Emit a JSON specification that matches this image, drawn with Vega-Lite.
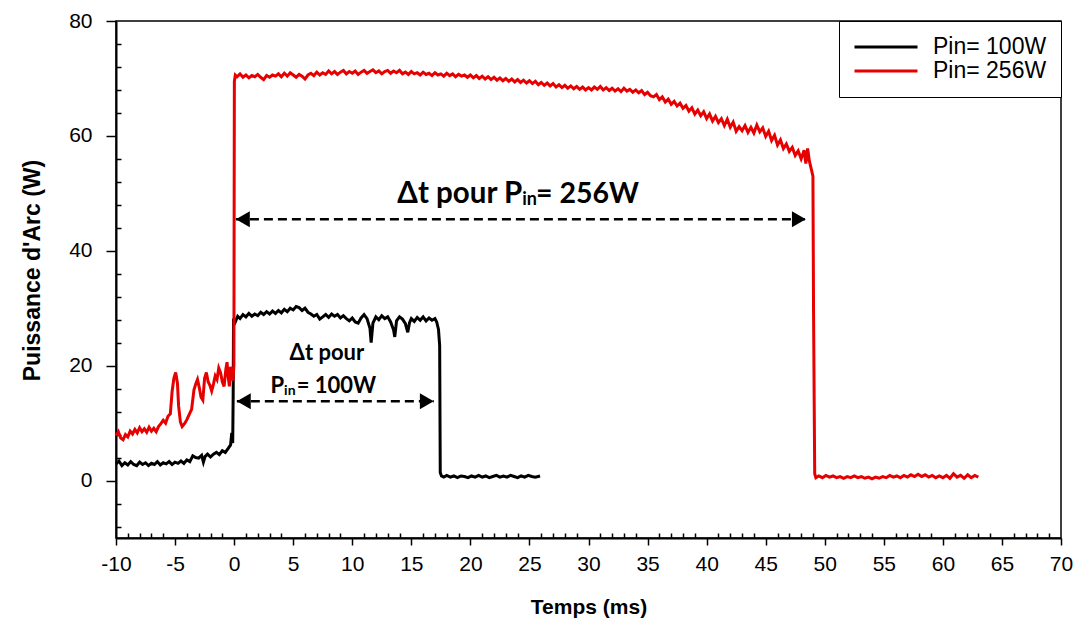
{
  "$schema": "https://vega.github.io/schema/vega-lite/v6.json",
  "width": 945,
  "height": 517,
  "autosize": {"type": "none"},
  "padding": {"left": 116, "top": 21, "right": 18, "bottom": 83},
  "background": "white",
  "config": {
    "view": {"stroke": "black", "strokeWidth": 1.5},
    "axis": {"grid": false, "domainColor": "black", "tickColor": "black", "labelColor": "black", "titleColor": "black", "domainWidth": 2, "tickWidth": 1.5},
    "legend": {"labelFont": "Liberation Sans", "labelFontSize": 23, "labelColor": "black"}
  },
  "datasets": {
    "series": [
      {"t": -10, "p": 2.9, "s": "Pin= 100W"}, {"t": -9.75, "p": 3.4, "s": "Pin= 100W"}, {"t": -9.5, "p": 2.6, "s": "Pin= 100W"}, {"t": -9.25, "p": 3.1, "s": "Pin= 100W"}, {"t": -9, "p": 2.7, "s": "Pin= 100W"}, {"t": -8.75, "p": 3.3, "s": "Pin= 100W"}, {"t": -8.5, "p": 2.8, "s": "Pin= 100W"}, {"t": -8.25, "p": 2.6, "s": "Pin= 100W"}, {"t": -8, "p": 3.2, "s": "Pin= 100W"}, {"t": -7.75, "p": 2.8, "s": "Pin= 100W"}, {"t": -7.5, "p": 3.1, "s": "Pin= 100W"}, {"t": -7.25, "p": 2.6, "s": "Pin= 100W"}, {"t": -7, "p": 3.0, "s": "Pin= 100W"}, {"t": -6.75, "p": 2.8, "s": "Pin= 100W"}, {"t": -6.5, "p": 3.3, "s": "Pin= 100W"}, {"t": -6.25, "p": 2.7, "s": "Pin= 100W"}, {"t": -6, "p": 3.1, "s": "Pin= 100W"}, {"t": -5.75, "p": 2.9, "s": "Pin= 100W"}, {"t": -5.5, "p": 3.3, "s": "Pin= 100W"}, {"t": -5.25, "p": 2.8, "s": "Pin= 100W"}, {"t": -5, "p": 3.2, "s": "Pin= 100W"}, {"t": -4.75, "p": 3.0, "s": "Pin= 100W"}, {"t": -4.5, "p": 3.4, "s": "Pin= 100W"}, {"t": -4.25, "p": 3.0, "s": "Pin= 100W"}, {"t": -4, "p": 3.6, "s": "Pin= 100W"}, {"t": -3.75, "p": 3.3, "s": "Pin= 100W"}, {"t": -3.5, "p": 4.3, "s": "Pin= 100W"}, {"t": -3.25, "p": 4.0, "s": "Pin= 100W"}, {"t": -3, "p": 3.9, "s": "Pin= 100W"}, {"t": -2.75, "p": 4.4, "s": "Pin= 100W"}, {"t": -2.6, "p": 3.2, "s": "Pin= 100W"}, {"t": -2.45, "p": 4.2, "s": "Pin= 100W"}, {"t": -2.25, "p": 4.6, "s": "Pin= 100W"}, {"t": -2, "p": 4.1, "s": "Pin= 100W"}, {"t": -1.75, "p": 4.6, "s": "Pin= 100W"}, {"t": -1.5, "p": 4.9, "s": "Pin= 100W"}, {"t": -1.25, "p": 4.5, "s": "Pin= 100W"}, {"t": -1, "p": 5.2, "s": "Pin= 100W"}, {"t": -0.75, "p": 4.9, "s": "Pin= 100W"}, {"t": -0.5, "p": 5.6, "s": "Pin= 100W"}, {"t": -0.3, "p": 6.2, "s": "Pin= 100W"}, {"t": -0.2, "p": 8.3, "s": "Pin= 100W"}, {"t": -0.12, "p": 6.5, "s": "Pin= 100W"}, {"t": -0.08, "p": 15, "s": "Pin= 100W"}, {"t": -0.05, "p": 28.2, "s": "Pin= 100W"},
      {"t": 0.1, "p": 27.6, "s": "Pin= 100W"}, {"t": 0.3, "p": 28.6, "s": "Pin= 100W"}, {"t": 0.5, "p": 28.2, "s": "Pin= 100W"}, {"t": 0.75, "p": 28.9, "s": "Pin= 100W"}, {"t": 1.0, "p": 28.5, "s": "Pin= 100W"}, {"t": 1.25, "p": 29.1, "s": "Pin= 100W"}, {"t": 1.5, "p": 28.6, "s": "Pin= 100W"}, {"t": 1.75, "p": 29.0, "s": "Pin= 100W"}, {"t": 2.0, "p": 28.7, "s": "Pin= 100W"}, {"t": 2.25, "p": 29.3, "s": "Pin= 100W"}, {"t": 2.5, "p": 28.9, "s": "Pin= 100W"}, {"t": 2.75, "p": 29.4, "s": "Pin= 100W"}, {"t": 3.0, "p": 29.0, "s": "Pin= 100W"}, {"t": 3.25, "p": 29.5, "s": "Pin= 100W"}, {"t": 3.5, "p": 29.1, "s": "Pin= 100W"}, {"t": 3.75, "p": 29.6, "s": "Pin= 100W"}, {"t": 4.0, "p": 29.2, "s": "Pin= 100W"}, {"t": 4.25, "p": 29.8, "s": "Pin= 100W"}, {"t": 4.5, "p": 29.4, "s": "Pin= 100W"}, {"t": 4.75, "p": 30.0, "s": "Pin= 100W"}, {"t": 5.0, "p": 29.7, "s": "Pin= 100W"}, {"t": 5.25, "p": 30.3, "s": "Pin= 100W"}, {"t": 5.5, "p": 30.1, "s": "Pin= 100W"}, {"t": 5.75, "p": 29.6, "s": "Pin= 100W"}, {"t": 6.0, "p": 30.0, "s": "Pin= 100W"}, {"t": 6.25, "p": 29.3, "s": "Pin= 100W"}, {"t": 6.5, "p": 29.0, "s": "Pin= 100W"}, {"t": 6.75, "p": 28.6, "s": "Pin= 100W"}, {"t": 7.0, "p": 28.9, "s": "Pin= 100W"}, {"t": 7.25, "p": 28.1, "s": "Pin= 100W"}, {"t": 7.5, "p": 28.5, "s": "Pin= 100W"}, {"t": 7.75, "p": 28.9, "s": "Pin= 100W"}, {"t": 8.0, "p": 28.4, "s": "Pin= 100W"}, {"t": 8.25, "p": 29.0, "s": "Pin= 100W"}, {"t": 8.5, "p": 28.6, "s": "Pin= 100W"}, {"t": 8.75, "p": 28.9, "s": "Pin= 100W"}, {"t": 9.0, "p": 28.3, "s": "Pin= 100W"}, {"t": 9.25, "p": 28.7, "s": "Pin= 100W"}, {"t": 9.5, "p": 28.2, "s": "Pin= 100W"}, {"t": 9.75, "p": 27.8, "s": "Pin= 100W"}, {"t": 10.0, "p": 28.3, "s": "Pin= 100W"}, {"t": 10.25, "p": 27.6, "s": "Pin= 100W"}, {"t": 10.5, "p": 27.4, "s": "Pin= 100W"}, {"t": 10.75, "p": 28.3, "s": "Pin= 100W"}, {"t": 11.0, "p": 28.9, "s": "Pin= 100W"}, {"t": 11.25, "p": 28.2, "s": "Pin= 100W"}, {"t": 11.5, "p": 26.5, "s": "Pin= 100W"}, {"t": 11.6, "p": 24.0, "s": "Pin= 100W"}, {"t": 11.75, "p": 27.4, "s": "Pin= 100W"}, {"t": 12.0, "p": 28.5, "s": "Pin= 100W"}, {"t": 12.25, "p": 28.0, "s": "Pin= 100W"}, {"t": 12.5, "p": 28.7, "s": "Pin= 100W"}, {"t": 12.75, "p": 28.2, "s": "Pin= 100W"}, {"t": 13.0, "p": 28.5, "s": "Pin= 100W"}, {"t": 13.25, "p": 27.6, "s": "Pin= 100W"}, {"t": 13.5, "p": 26.2, "s": "Pin= 100W"}, {"t": 13.6, "p": 25.0, "s": "Pin= 100W"}, {"t": 13.75, "p": 27.8, "s": "Pin= 100W"}, {"t": 14.0, "p": 28.5, "s": "Pin= 100W"}, {"t": 14.25, "p": 28.1, "s": "Pin= 100W"}, {"t": 14.5, "p": 27.3, "s": "Pin= 100W"}, {"t": 14.7, "p": 25.8, "s": "Pin= 100W"}, {"t": 14.85, "p": 27.5, "s": "Pin= 100W"}, {"t": 15.0, "p": 28.2, "s": "Pin= 100W"}, {"t": 15.25, "p": 27.7, "s": "Pin= 100W"}, {"t": 15.5, "p": 28.4, "s": "Pin= 100W"}, {"t": 15.75, "p": 27.9, "s": "Pin= 100W"}, {"t": 16.0, "p": 28.5, "s": "Pin= 100W"}, {"t": 16.25, "p": 27.8, "s": "Pin= 100W"}, {"t": 16.5, "p": 28.3, "s": "Pin= 100W"}, {"t": 16.75, "p": 27.9, "s": "Pin= 100W"}, {"t": 17.0, "p": 28.2, "s": "Pin= 100W"}, {"t": 17.15, "p": 27.6, "s": "Pin= 100W"}, {"t": 17.3, "p": 26.3, "s": "Pin= 100W"}, {"t": 17.4, "p": 23.5, "s": "Pin= 100W"}, {"t": 17.45, "p": 1.4, "s": "Pin= 100W"}, {"t": 17.55, "p": 0.8, "s": "Pin= 100W"}, {"t": 17.75, "p": 0.6, "s": "Pin= 100W"}, {"t": 18.0, "p": 0.9, "s": "Pin= 100W"}, {"t": 18.3, "p": 0.6, "s": "Pin= 100W"}, {"t": 18.6, "p": 0.8, "s": "Pin= 100W"}, {"t": 18.9, "p": 0.5, "s": "Pin= 100W"}, {"t": 19.2, "p": 0.8, "s": "Pin= 100W"}, {"t": 19.5, "p": 0.7, "s": "Pin= 100W"}, {"t": 19.8, "p": 0.5, "s": "Pin= 100W"}, {"t": 20.1, "p": 0.8, "s": "Pin= 100W"}, {"t": 20.4, "p": 0.6, "s": "Pin= 100W"}, {"t": 20.7, "p": 0.9, "s": "Pin= 100W"}, {"t": 21.0, "p": 0.6, "s": "Pin= 100W"}, {"t": 21.3, "p": 0.8, "s": "Pin= 100W"}, {"t": 21.6, "p": 0.5, "s": "Pin= 100W"}, {"t": 21.9, "p": 0.7, "s": "Pin= 100W"}, {"t": 22.2, "p": 0.9, "s": "Pin= 100W"}, {"t": 22.5, "p": 0.6, "s": "Pin= 100W"}, {"t": 22.8, "p": 0.8, "s": "Pin= 100W"}, {"t": 23.1, "p": 0.6, "s": "Pin= 100W"}, {"t": 23.4, "p": 0.9, "s": "Pin= 100W"}, {"t": 23.7, "p": 0.7, "s": "Pin= 100W"}, {"t": 24.0, "p": 0.5, "s": "Pin= 100W"}, {"t": 24.3, "p": 0.8, "s": "Pin= 100W"}, {"t": 24.6, "p": 0.6, "s": "Pin= 100W"}, {"t": 24.9, "p": 0.9, "s": "Pin= 100W"}, {"t": 25.2, "p": 0.7, "s": "Pin= 100W"}, {"t": 25.5, "p": 0.6, "s": "Pin= 100W"}, {"t": 25.9, "p": 0.8, "s": "Pin= 100W"},
      {"t": -10, "p": 7.8, "s": "Pin= 256W"}, {"t": -9.8, "p": 8.5, "s": "Pin= 256W"}, {"t": -9.6, "p": 7.4, "s": "Pin= 256W"}, {"t": -9.4, "p": 7.1, "s": "Pin= 256W"}, {"t": -9.2, "p": 8.0, "s": "Pin= 256W"}, {"t": -9.0, "p": 7.6, "s": "Pin= 256W"}, {"t": -8.8, "p": 8.6, "s": "Pin= 256W"}, {"t": -8.6, "p": 8.1, "s": "Pin= 256W"}, {"t": -8.4, "p": 8.9, "s": "Pin= 256W"}, {"t": -8.2, "p": 8.3, "s": "Pin= 256W"}, {"t": -8.0, "p": 9.2, "s": "Pin= 256W"}, {"t": -7.8, "p": 8.5, "s": "Pin= 256W"}, {"t": -7.6, "p": 9.0, "s": "Pin= 256W"}, {"t": -7.4, "p": 8.4, "s": "Pin= 256W"}, {"t": -7.2, "p": 9.3, "s": "Pin= 256W"}, {"t": -7.0, "p": 8.6, "s": "Pin= 256W"}, {"t": -6.8, "p": 9.1, "s": "Pin= 256W"}, {"t": -6.6, "p": 8.5, "s": "Pin= 256W"}, {"t": -6.4, "p": 9.4, "s": "Pin= 256W"}, {"t": -6.2, "p": 9.9, "s": "Pin= 256W"}, {"t": -6.0, "p": 10.5, "s": "Pin= 256W"}, {"t": -5.8, "p": 10.0, "s": "Pin= 256W"}, {"t": -5.6, "p": 11.2, "s": "Pin= 256W"}, {"t": -5.4, "p": 11.6, "s": "Pin= 256W"}, {"t": -5.25, "p": 15.5, "s": "Pin= 256W"}, {"t": -5.1, "p": 17.8, "s": "Pin= 256W"}, {"t": -4.95, "p": 18.8, "s": "Pin= 256W"}, {"t": -4.8, "p": 17.0, "s": "Pin= 256W"}, {"t": -4.7, "p": 13.0, "s": "Pin= 256W"}, {"t": -4.55, "p": 10.2, "s": "Pin= 256W"}, {"t": -4.4, "p": 9.4, "s": "Pin= 256W"}, {"t": -4.2, "p": 9.9, "s": "Pin= 256W"}, {"t": -4.0, "p": 10.6, "s": "Pin= 256W"}, {"t": -3.8, "p": 11.5, "s": "Pin= 256W"}, {"t": -3.6, "p": 12.4, "s": "Pin= 256W"}, {"t": -3.4, "p": 15.8, "s": "Pin= 256W"}, {"t": -3.25, "p": 16.8, "s": "Pin= 256W"}, {"t": -3.1, "p": 17.6, "s": "Pin= 256W"}, {"t": -2.95, "p": 16.2, "s": "Pin= 256W"}, {"t": -2.8, "p": 14.5, "s": "Pin= 256W"}, {"t": -2.65, "p": 14.0, "s": "Pin= 256W"}, {"t": -2.5, "p": 17.8, "s": "Pin= 256W"}, {"t": -2.35, "p": 18.8, "s": "Pin= 256W"}, {"t": -2.2, "p": 17.2, "s": "Pin= 256W"}, {"t": -2.05, "p": 16.6, "s": "Pin= 256W"}, {"t": -1.9, "p": 15.6, "s": "Pin= 256W"}, {"t": -1.75, "p": 16.8, "s": "Pin= 256W"}, {"t": -1.6, "p": 18.2, "s": "Pin= 256W"}, {"t": -1.45, "p": 17.6, "s": "Pin= 256W"}, {"t": -1.3, "p": 19.6, "s": "Pin= 256W"}, {"t": -1.15, "p": 18.8, "s": "Pin= 256W"}, {"t": -1.0, "p": 17.2, "s": "Pin= 256W"}, {"t": -0.85, "p": 16.4, "s": "Pin= 256W"}, {"t": -0.7, "p": 19.4, "s": "Pin= 256W"}, {"t": -0.6, "p": 20.6, "s": "Pin= 256W"}, {"t": -0.5, "p": 18.0, "s": "Pin= 256W"}, {"t": -0.4, "p": 16.4, "s": "Pin= 256W"}, {"t": -0.3, "p": 19.8, "s": "Pin= 256W"}, {"t": -0.2, "p": 18.4, "s": "Pin= 256W"}, {"t": -0.1, "p": 17.4, "s": "Pin= 256W"}, {"t": -0.02, "p": 20.0, "s": "Pin= 256W"}, {"t": 0.02, "p": 69.5, "s": "Pin= 256W"}, {"t": 0.1, "p": 70.6, "s": "Pin= 256W"},
      {"t": 0.25, "p": 70.3, "s": "Pin= 256W"}, {"t": 0.5, "p": 70.8, "s": "Pin= 256W"}, {"t": 0.75, "p": 70.2, "s": "Pin= 256W"}, {"t": 1.0, "p": 70.6, "s": "Pin= 256W"}, {"t": 1.25, "p": 70.1, "s": "Pin= 256W"}, {"t": 1.5, "p": 70.5, "s": "Pin= 256W"}, {"t": 1.75, "p": 70.3, "s": "Pin= 256W"}, {"t": 2.0, "p": 70.7, "s": "Pin= 256W"}, {"t": 2.25, "p": 70.2, "s": "Pin= 256W"}, {"t": 2.5, "p": 69.8, "s": "Pin= 256W"}, {"t": 2.75, "p": 70.5, "s": "Pin= 256W"}, {"t": 3.0, "p": 70.2, "s": "Pin= 256W"}, {"t": 3.25, "p": 70.6, "s": "Pin= 256W"}, {"t": 3.5, "p": 70.4, "s": "Pin= 256W"}, {"t": 3.75, "p": 70.8, "s": "Pin= 256W"}, {"t": 4.0, "p": 70.3, "s": "Pin= 256W"}, {"t": 4.25, "p": 70.9, "s": "Pin= 256W"}, {"t": 4.5, "p": 70.4, "s": "Pin= 256W"}, {"t": 4.75, "p": 71.0, "s": "Pin= 256W"}, {"t": 5.0, "p": 70.6, "s": "Pin= 256W"}, {"t": 5.25, "p": 70.2, "s": "Pin= 256W"}, {"t": 5.5, "p": 70.7, "s": "Pin= 256W"}, {"t": 5.75, "p": 70.4, "s": "Pin= 256W"}, {"t": 6.0, "p": 69.9, "s": "Pin= 256W"}, {"t": 6.25, "p": 70.6, "s": "Pin= 256W"}, {"t": 6.5, "p": 70.9, "s": "Pin= 256W"}, {"t": 6.75, "p": 70.5, "s": "Pin= 256W"}, {"t": 7.0, "p": 71.1, "s": "Pin= 256W"}, {"t": 7.25, "p": 70.6, "s": "Pin= 256W"}, {"t": 7.5, "p": 71.0, "s": "Pin= 256W"}, {"t": 7.75, "p": 70.7, "s": "Pin= 256W"}, {"t": 8.0, "p": 71.3, "s": "Pin= 256W"}, {"t": 8.25, "p": 70.8, "s": "Pin= 256W"}, {"t": 8.5, "p": 71.2, "s": "Pin= 256W"}, {"t": 8.75, "p": 70.7, "s": "Pin= 256W"}, {"t": 9.0, "p": 71.1, "s": "Pin= 256W"}, {"t": 9.25, "p": 71.4, "s": "Pin= 256W"}, {"t": 9.5, "p": 70.8, "s": "Pin= 256W"}, {"t": 9.75, "p": 71.2, "s": "Pin= 256W"}, {"t": 10.0, "p": 70.9, "s": "Pin= 256W"}, {"t": 10.25, "p": 71.3, "s": "Pin= 256W"}, {"t": 10.5, "p": 70.7, "s": "Pin= 256W"}, {"t": 10.75, "p": 71.1, "s": "Pin= 256W"}, {"t": 11.0, "p": 71.4, "s": "Pin= 256W"}, {"t": 11.25, "p": 70.9, "s": "Pin= 256W"}, {"t": 11.5, "p": 71.2, "s": "Pin= 256W"}, {"t": 11.75, "p": 71.5, "s": "Pin= 256W"}, {"t": 12.0, "p": 71.0, "s": "Pin= 256W"}, {"t": 12.25, "p": 71.3, "s": "Pin= 256W"}, {"t": 12.5, "p": 70.8, "s": "Pin= 256W"}, {"t": 12.75, "p": 71.2, "s": "Pin= 256W"}, {"t": 13.0, "p": 71.4, "s": "Pin= 256W"}, {"t": 13.25, "p": 70.9, "s": "Pin= 256W"}, {"t": 13.5, "p": 71.3, "s": "Pin= 256W"}, {"t": 13.75, "p": 71.0, "s": "Pin= 256W"}, {"t": 14.0, "p": 71.4, "s": "Pin= 256W"}, {"t": 14.25, "p": 70.8, "s": "Pin= 256W"}, {"t": 14.5, "p": 71.1, "s": "Pin= 256W"}, {"t": 14.75, "p": 70.7, "s": "Pin= 256W"}, {"t": 15.0, "p": 71.2, "s": "Pin= 256W"}, {"t": 15.25, "p": 70.8, "s": "Pin= 256W"}, {"t": 15.5, "p": 71.0, "s": "Pin= 256W"}, {"t": 15.75, "p": 70.6, "s": "Pin= 256W"}, {"t": 16.0, "p": 71.1, "s": "Pin= 256W"}, {"t": 16.25, "p": 70.7, "s": "Pin= 256W"}, {"t": 16.5, "p": 70.9, "s": "Pin= 256W"}, {"t": 16.75, "p": 70.5, "s": "Pin= 256W"}, {"t": 17.0, "p": 71.0, "s": "Pin= 256W"}, {"t": 17.25, "p": 70.6, "s": "Pin= 256W"}, {"t": 17.5, "p": 70.8, "s": "Pin= 256W"}, {"t": 17.75, "p": 70.4, "s": "Pin= 256W"}, {"t": 18.0, "p": 70.9, "s": "Pin= 256W"}, {"t": 18.25, "p": 70.5, "s": "Pin= 256W"}, {"t": 18.5, "p": 70.8, "s": "Pin= 256W"}, {"t": 18.75, "p": 70.3, "s": "Pin= 256W"}, {"t": 19.0, "p": 70.7, "s": "Pin= 256W"}, {"t": 19.25, "p": 70.4, "s": "Pin= 256W"}, {"t": 19.5, "p": 70.6, "s": "Pin= 256W"}, {"t": 19.75, "p": 70.2, "s": "Pin= 256W"}, {"t": 20.0, "p": 70.6, "s": "Pin= 256W"}, {"t": 20.25, "p": 70.1, "s": "Pin= 256W"}, {"t": 20.5, "p": 70.5, "s": "Pin= 256W"}, {"t": 20.75, "p": 70.0, "s": "Pin= 256W"}, {"t": 21.0, "p": 70.4, "s": "Pin= 256W"}, {"t": 21.25, "p": 69.9, "s": "Pin= 256W"}, {"t": 21.5, "p": 70.3, "s": "Pin= 256W"}, {"t": 21.75, "p": 69.8, "s": "Pin= 256W"}, {"t": 22.0, "p": 70.2, "s": "Pin= 256W"}, {"t": 22.25, "p": 69.7, "s": "Pin= 256W"}, {"t": 22.5, "p": 70.1, "s": "Pin= 256W"}, {"t": 22.75, "p": 69.6, "s": "Pin= 256W"}, {"t": 23.0, "p": 70.0, "s": "Pin= 256W"}, {"t": 23.25, "p": 69.5, "s": "Pin= 256W"}, {"t": 23.5, "p": 69.9, "s": "Pin= 256W"}, {"t": 23.75, "p": 69.4, "s": "Pin= 256W"}, {"t": 24.0, "p": 69.8, "s": "Pin= 256W"}, {"t": 24.25, "p": 69.3, "s": "Pin= 256W"}, {"t": 24.5, "p": 69.7, "s": "Pin= 256W"}, {"t": 24.75, "p": 69.2, "s": "Pin= 256W"}, {"t": 25.0, "p": 69.6, "s": "Pin= 256W"}, {"t": 25.25, "p": 69.1, "s": "Pin= 256W"}, {"t": 25.5, "p": 69.5, "s": "Pin= 256W"}, {"t": 25.75, "p": 68.9, "s": "Pin= 256W"}, {"t": 26.0, "p": 69.3, "s": "Pin= 256W"}, {"t": 26.25, "p": 68.8, "s": "Pin= 256W"}, {"t": 26.5, "p": 69.2, "s": "Pin= 256W"}, {"t": 26.75, "p": 68.7, "s": "Pin= 256W"}, {"t": 27.0, "p": 69.1, "s": "Pin= 256W"}, {"t": 27.25, "p": 68.5, "s": "Pin= 256W"}, {"t": 27.5, "p": 68.9, "s": "Pin= 256W"}, {"t": 27.75, "p": 68.4, "s": "Pin= 256W"}, {"t": 28.0, "p": 68.8, "s": "Pin= 256W"}, {"t": 28.25, "p": 68.3, "s": "Pin= 256W"}, {"t": 28.5, "p": 68.7, "s": "Pin= 256W"}, {"t": 28.75, "p": 68.2, "s": "Pin= 256W"}, {"t": 29.0, "p": 68.6, "s": "Pin= 256W"}, {"t": 29.25, "p": 68.1, "s": "Pin= 256W"}, {"t": 29.5, "p": 68.5, "s": "Pin= 256W"}, {"t": 29.75, "p": 68.0, "s": "Pin= 256W"}, {"t": 30.0, "p": 68.4, "s": "Pin= 256W"}, {"t": 30.25, "p": 68.0, "s": "Pin= 256W"}, {"t": 30.5, "p": 68.5, "s": "Pin= 256W"}, {"t": 30.75, "p": 68.1, "s": "Pin= 256W"}, {"t": 31.0, "p": 68.6, "s": "Pin= 256W"}, {"t": 31.25, "p": 68.0, "s": "Pin= 256W"}, {"t": 31.5, "p": 68.4, "s": "Pin= 256W"}, {"t": 31.75, "p": 67.9, "s": "Pin= 256W"}, {"t": 32.0, "p": 68.3, "s": "Pin= 256W"}, {"t": 32.25, "p": 67.8, "s": "Pin= 256W"}, {"t": 32.5, "p": 68.2, "s": "Pin= 256W"}, {"t": 32.75, "p": 67.7, "s": "Pin= 256W"}, {"t": 33.0, "p": 68.3, "s": "Pin= 256W"}, {"t": 33.25, "p": 67.8, "s": "Pin= 256W"}, {"t": 33.5, "p": 68.1, "s": "Pin= 256W"}, {"t": 33.75, "p": 67.6, "s": "Pin= 256W"}, {"t": 34.0, "p": 68.0, "s": "Pin= 256W"}, {"t": 34.25, "p": 67.5, "s": "Pin= 256W"}, {"t": 34.5, "p": 67.9, "s": "Pin= 256W"}, {"t": 34.75, "p": 67.2, "s": "Pin= 256W"}, {"t": 35.0, "p": 67.6, "s": "Pin= 256W"}, {"t": 35.25, "p": 67.0, "s": "Pin= 256W"}, {"t": 35.5, "p": 66.8, "s": "Pin= 256W"}, {"t": 35.75, "p": 67.2, "s": "Pin= 256W"}, {"t": 36.0, "p": 66.3, "s": "Pin= 256W"}, {"t": 36.25, "p": 66.8, "s": "Pin= 256W"}, {"t": 36.5, "p": 65.9, "s": "Pin= 256W"}, {"t": 36.75, "p": 66.4, "s": "Pin= 256W"}, {"t": 37.0, "p": 65.5, "s": "Pin= 256W"}, {"t": 37.25, "p": 66.0, "s": "Pin= 256W"}, {"t": 37.5, "p": 65.2, "s": "Pin= 256W"}, {"t": 37.75, "p": 65.7, "s": "Pin= 256W"}, {"t": 38.0, "p": 64.8, "s": "Pin= 256W"}, {"t": 38.25, "p": 65.3, "s": "Pin= 256W"}, {"t": 38.5, "p": 64.3, "s": "Pin= 256W"}, {"t": 38.75, "p": 64.9, "s": "Pin= 256W"}, {"t": 39.0, "p": 63.8, "s": "Pin= 256W"}, {"t": 39.25, "p": 64.5, "s": "Pin= 256W"}, {"t": 39.5, "p": 63.5, "s": "Pin= 256W"}, {"t": 39.75, "p": 64.2, "s": "Pin= 256W"}, {"t": 40.0, "p": 63.0, "s": "Pin= 256W"}, {"t": 40.25, "p": 63.8, "s": "Pin= 256W"}, {"t": 40.5, "p": 62.6, "s": "Pin= 256W"}, {"t": 40.75, "p": 63.4, "s": "Pin= 256W"}, {"t": 41.0, "p": 62.3, "s": "Pin= 256W"}, {"t": 41.25, "p": 63.0, "s": "Pin= 256W"}, {"t": 41.5, "p": 61.8, "s": "Pin= 256W"}, {"t": 41.75, "p": 62.9, "s": "Pin= 256W"}, {"t": 42.0, "p": 61.5, "s": "Pin= 256W"}, {"t": 42.25, "p": 62.4, "s": "Pin= 256W"}, {"t": 42.5, "p": 60.8, "s": "Pin= 256W"}, {"t": 42.75, "p": 61.6, "s": "Pin= 256W"}, {"t": 43.0, "p": 60.9, "s": "Pin= 256W"}, {"t": 43.25, "p": 61.8, "s": "Pin= 256W"}, {"t": 43.5, "p": 60.6, "s": "Pin= 256W"}, {"t": 43.75, "p": 61.5, "s": "Pin= 256W"}, {"t": 44.0, "p": 60.5, "s": "Pin= 256W"}, {"t": 44.25, "p": 61.9, "s": "Pin= 256W"}, {"t": 44.5, "p": 60.7, "s": "Pin= 256W"}, {"t": 44.75, "p": 61.4, "s": "Pin= 256W"}, {"t": 45.0, "p": 59.9, "s": "Pin= 256W"}, {"t": 45.25, "p": 60.8, "s": "Pin= 256W"}, {"t": 45.5, "p": 59.2, "s": "Pin= 256W"}, {"t": 45.75, "p": 60.1, "s": "Pin= 256W"}, {"t": 46.0, "p": 58.4, "s": "Pin= 256W"}, {"t": 46.25, "p": 59.3, "s": "Pin= 256W"}, {"t": 46.5, "p": 57.8, "s": "Pin= 256W"}, {"t": 46.75, "p": 58.6, "s": "Pin= 256W"}, {"t": 47.0, "p": 57.3, "s": "Pin= 256W"}, {"t": 47.25, "p": 58.0, "s": "Pin= 256W"}, {"t": 47.5, "p": 56.6, "s": "Pin= 256W"}, {"t": 47.75, "p": 57.4, "s": "Pin= 256W"}, {"t": 48.0, "p": 56.0, "s": "Pin= 256W"}, {"t": 48.25, "p": 57.5, "s": "Pin= 256W"}, {"t": 48.4, "p": 55.2, "s": "Pin= 256W"}, {"t": 48.55, "p": 57.8, "s": "Pin= 256W"}, {"t": 48.7, "p": 55.6, "s": "Pin= 256W"}, {"t": 48.85, "p": 54.3, "s": "Pin= 256W"}, {"t": 49.0, "p": 53.0, "s": "Pin= 256W"}, {"t": 49.05, "p": 30.0, "s": "Pin= 256W"}, {"t": 49.15, "p": 1.2, "s": "Pin= 256W"}, {"t": 49.25, "p": 0.5, "s": "Pin= 256W"},
      {"t": 49.5, "p": 0.8, "s": "Pin= 256W"}, {"t": 49.8, "p": 0.5, "s": "Pin= 256W"}, {"t": 50.1, "p": 0.9, "s": "Pin= 256W"}, {"t": 50.4, "p": 0.6, "s": "Pin= 256W"}, {"t": 50.7, "p": 0.8, "s": "Pin= 256W"}, {"t": 51.0, "p": 0.5, "s": "Pin= 256W"}, {"t": 51.3, "p": 0.7, "s": "Pin= 256W"}, {"t": 51.6, "p": 0.4, "s": "Pin= 256W"}, {"t": 51.9, "p": 0.7, "s": "Pin= 256W"}, {"t": 52.2, "p": 0.5, "s": "Pin= 256W"}, {"t": 52.5, "p": 0.8, "s": "Pin= 256W"}, {"t": 52.8, "p": 0.5, "s": "Pin= 256W"}, {"t": 53.1, "p": 0.7, "s": "Pin= 256W"}, {"t": 53.4, "p": 0.4, "s": "Pin= 256W"}, {"t": 53.7, "p": 0.6, "s": "Pin= 256W"}, {"t": 54.0, "p": 0.3, "s": "Pin= 256W"}, {"t": 54.3, "p": 0.6, "s": "Pin= 256W"}, {"t": 54.6, "p": 0.4, "s": "Pin= 256W"}, {"t": 54.9, "p": 0.7, "s": "Pin= 256W"}, {"t": 55.2, "p": 0.5, "s": "Pin= 256W"}, {"t": 55.5, "p": 0.9, "s": "Pin= 256W"}, {"t": 55.8, "p": 0.6, "s": "Pin= 256W"}, {"t": 56.1, "p": 0.8, "s": "Pin= 256W"}, {"t": 56.4, "p": 0.5, "s": "Pin= 256W"}, {"t": 56.7, "p": 0.9, "s": "Pin= 256W"}, {"t": 57.0, "p": 0.6, "s": "Pin= 256W"}, {"t": 57.3, "p": 1.0, "s": "Pin= 256W"}, {"t": 57.6, "p": 0.7, "s": "Pin= 256W"}, {"t": 57.9, "p": 1.1, "s": "Pin= 256W"}, {"t": 58.2, "p": 0.7, "s": "Pin= 256W"}, {"t": 58.5, "p": 1.0, "s": "Pin= 256W"}, {"t": 58.8, "p": 0.6, "s": "Pin= 256W"}, {"t": 59.1, "p": 0.9, "s": "Pin= 256W"}, {"t": 59.4, "p": 0.5, "s": "Pin= 256W"}, {"t": 59.7, "p": 0.8, "s": "Pin= 256W"}, {"t": 60.0, "p": 0.5, "s": "Pin= 256W"}, {"t": 60.3, "p": 0.9, "s": "Pin= 256W"}, {"t": 60.6, "p": 0.4, "s": "Pin= 256W"}, {"t": 60.9, "p": 1.2, "s": "Pin= 256W"}, {"t": 61.2, "p": 0.6, "s": "Pin= 256W"}, {"t": 61.5, "p": 0.9, "s": "Pin= 256W"}, {"t": 61.8, "p": 0.4, "s": "Pin= 256W"}, {"t": 62.1, "p": 1.0, "s": "Pin= 256W"}, {"t": 62.4, "p": 0.5, "s": "Pin= 256W"}, {"t": 62.7, "p": 0.9, "s": "Pin= 256W"}, {"t": 63.0, "p": 0.6, "s": "Pin= 256W"}
    ],
    "arrows": [
      {"t1": 0.15, "t2": 48.4, "y": 45.5},
      {"t1": 0.23, "t2": 16.9, "y": 13.8}
    ],
    "heads": [
      {"t": 0.74, "y": 45.5, "shape": "triangle-left"},
      {"t": 47.81, "y": 45.5, "shape": "triangle-right"},
      {"t": 0.82, "y": 13.8, "shape": "triangle-left"},
      {"t": 16.31, "y": 13.8, "shape": "triangle-right"}
    ],
    "textC": [
      {"t": 7.85, "y": 21.0, "txt": "Δt pour", "fs": 22}
    ],
    "textR": [
      {"t": 4.23, "y": 15.25, "txt": "P", "fs": 22},
      {"t": 24.39, "y": 48.3, "txt": "Δt pour P", "fs": 29.5}
    ],
    "textL": [
      {"t": 4.23, "y": 14.9, "txt": "in", "fs": 14},
      {"t": 5.3, "y": 15.25, "txt": "= 100W", "fs": 22},
      {"t": 24.39, "y": 47.9, "txt": "in", "fs": 18},
      {"t": 25.55, "y": 48.3, "txt": "= 256W", "fs": 28.5}
    ]
  },
  "resolve": {"axis": {"x": "independent", "y": "independent"}},
  "layer": [
    {
      "layer": [
        {
          "data": {"name": "series"},
          "mark": {"type": "line", "strokeWidth": 3, "interpolate": "linear"},
          "encoding": {
            "x": {"field": "t", "type": "quantitative", "scale": {"domain": [-10, 70], "nice": false, "zero": false},
              "axis": {"orient": "bottom", "values": [-10, -5, 0, 5, 10, 15, 20, 25, 30, 35, 40, 45, 50, 55, 60, 65, 70], "labelExpr": "replace(datum.label, '−', '-')", "tickSize": 7, "labelPadding": 8, "labelFont": "Liberation Sans", "labelFontSize": 21, "labelFlush": false, "labelOverlap": false,
                "title": "Temps (ms)", "titleFont": "Liberation Sans", "titleFontSize": 21, "titleFontWeight": "bold", "titleY": 69, "titleBaseline": "middle"}},
            "y": {"field": "p", "type": "quantitative", "scale": {"domain": [-10, 80], "nice": false, "zero": false},
              "axis": {"orient": "left", "values": [0, 20, 40, 60, 80], "tickSize": 10, "labelPadding": 14, "labelFont": "Liberation Sans", "labelFontSize": 21, "labelFlush": false, "labelOverlap": false,
                "title": "Puissance d'Arc (W)", "titleFont": "Liberation Sans", "titleFontSize": 23, "titleFontWeight": "bold", "titleX": -84, "titleY": 249, "titleAlign": "center", "titleBaseline": "middle", "titleAngle": -90}},
            "color": {"field": "s", "type": "nominal", "scale": {"domain": ["Pin= 100W", "Pin= 256W"], "range": ["#000000", "#e60000"]},
              "legend": {"title": null, "orient": "top-right", "offset": 0, "padding": 14, "fillColor": "white", "strokeColor": "black", "symbolType": "M-1,0H5", "symbolSize": 441, "symbolStrokeWidth": 3, "labelOffset": 56, "rowPadding": 0}},
            "detail": {"field": "s"}
          }
        },
        {
          "data": {"name": "arrows"},
          "mark": {"type": "rule", "strokeDash": [9, 5], "strokeWidth": 2.5, "color": "black"},
          "encoding": {
            "x": {"field": "t1", "type": "quantitative"},
            "x2": {"field": "t2"},
            "y": {"field": "y", "type": "quantitative"}
          }
        },
        {
          "data": {"name": "heads"},
          "mark": {"type": "point", "filled": true, "color": "black", "opacity": 1, "size": 256},
          "encoding": {
            "x": {"field": "t", "type": "quantitative"},
            "y": {"field": "y", "type": "quantitative"},
            "shape": {"field": "shape", "type": "nominal", "scale": null, "legend": null}
          }
        },
        {
          "data": {"name": "textC"},
          "mark": {"type": "text", "align": "center", "baseline": "alphabetic", "font": "Lato", "fontWeight": "bold", "color": "black"},
          "encoding": {
            "x": {"field": "t", "type": "quantitative"},
            "y": {"field": "y", "type": "quantitative"},
            "text": {"field": "txt"},
            "size": {"field": "fs", "type": "quantitative", "scale": null, "legend": null}
          }
        },
        {
          "data": {"name": "textR"},
          "mark": {"type": "text", "align": "right", "baseline": "alphabetic", "font": "Lato", "fontWeight": "bold", "color": "black"},
          "encoding": {
            "x": {"field": "t", "type": "quantitative"},
            "y": {"field": "y", "type": "quantitative"},
            "text": {"field": "txt"},
            "size": {"field": "fs", "type": "quantitative", "scale": null, "legend": null}
          }
        },
        {
          "data": {"name": "textL"},
          "mark": {"type": "text", "align": "left", "baseline": "alphabetic", "font": "Lato", "fontWeight": "bold", "color": "black"},
          "encoding": {
            "x": {"field": "t", "type": "quantitative"},
            "y": {"field": "y", "type": "quantitative"},
            "text": {"field": "txt"},
            "size": {"field": "fs", "type": "quantitative", "scale": null, "legend": null}
          }
        }
      ]
    },
    {
      "data": {"name": "arrows"},
      "mark": {"type": "point", "opacity": 0},
      "encoding": {
        "x": {"field": "t1", "type": "quantitative",
          "axis": {"orient": "bottom", "values": [-9, -8, -7, -6, -4, -3, -2, -1, 1, 2, 3, 4, 6, 7, 8, 9, 11, 12, 13, 14, 16, 17, 18, 19, 21, 22, 23, 24, 26, 27, 28, 29, 31, 32, 33, 34, 36, 37, 38, 39, 41, 42, 43, 44, 46, 47, 48, 49, 51, 52, 53, 54, 56, 57, 58, 59, 61, 62, 63, 64, 66, 67, 68, 69], "tickSize": -5, "labels": false, "domain": false, "title": null, "grid": false}},
        "y": {"field": "y", "type": "quantitative",
          "axis": {"orient": "left", "values": [-8, -4, 4, 8, 12, 16, 24, 28, 32, 36, 44, 48, 52, 56, 64, 68, 72, 76], "tickSize": -5, "labels": false, "domain": false, "title": null, "grid": false}}
      }
    }
  ]
}
